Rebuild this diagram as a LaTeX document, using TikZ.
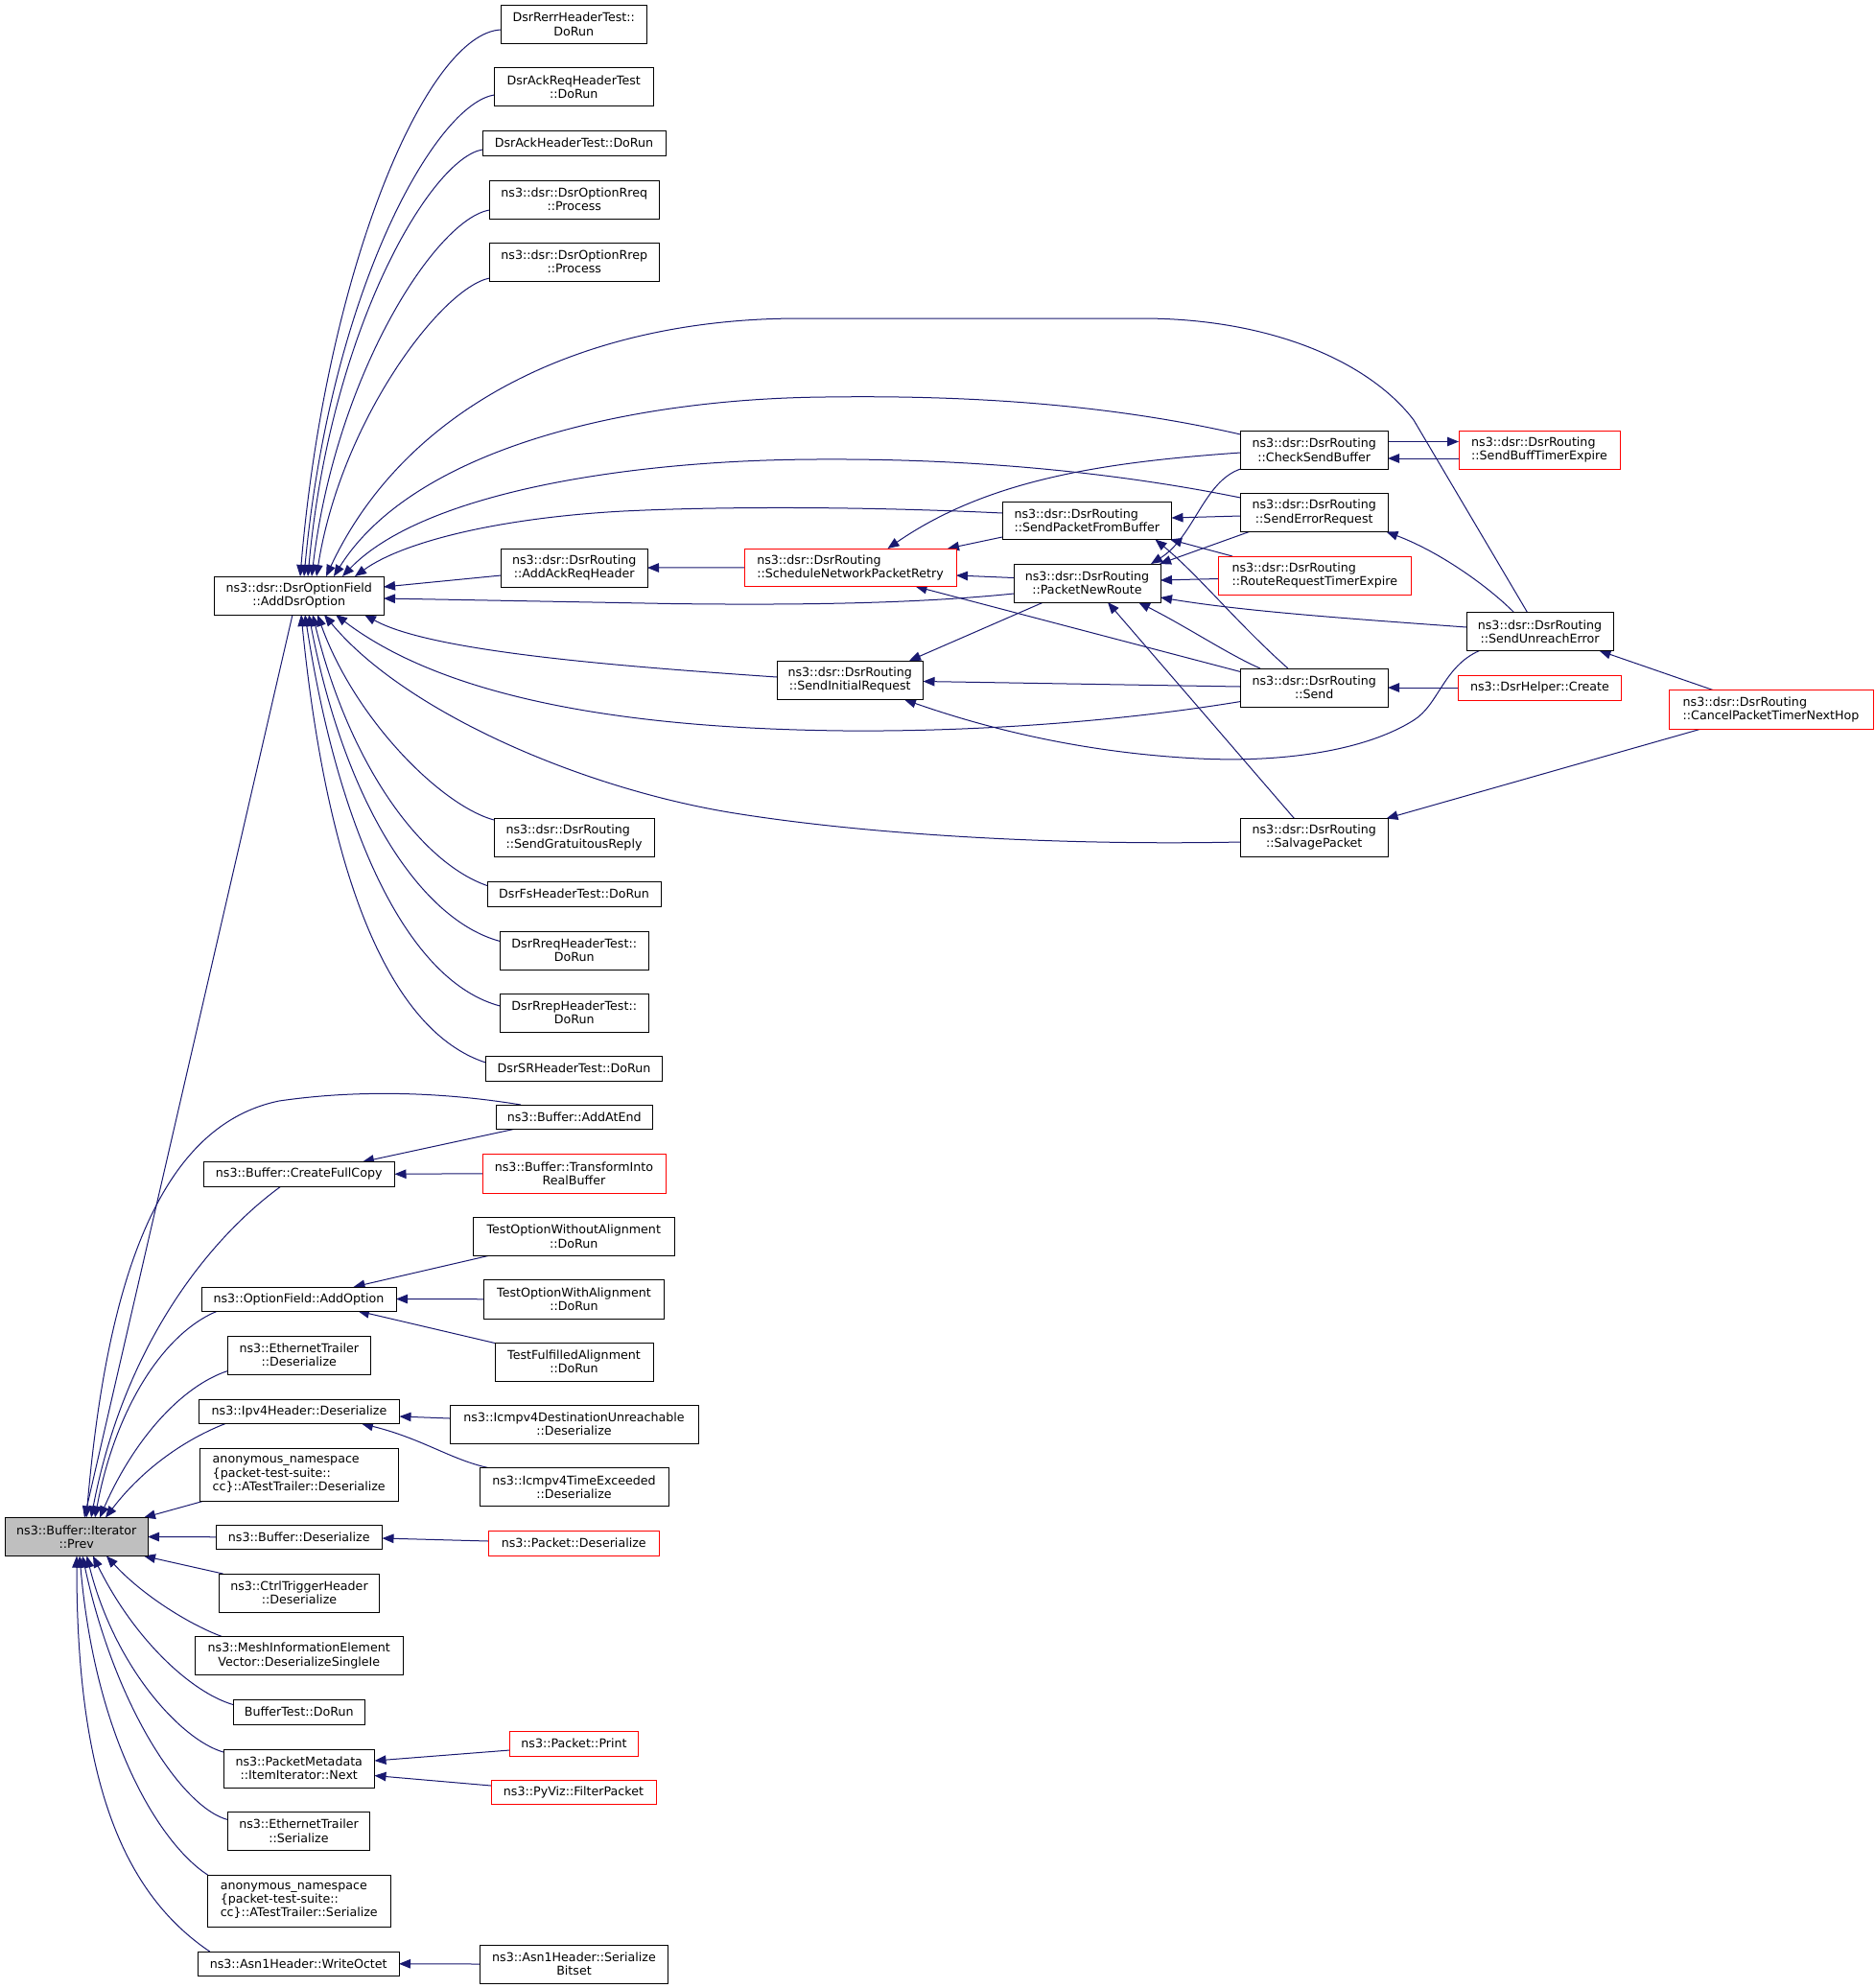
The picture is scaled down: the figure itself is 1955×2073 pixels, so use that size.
\documentclass[tikz,border=0pt]{standalone}
\usepackage{fontspec}
\setmainfont{DejaVu Sans}
\usetikzlibrary{arrows.meta,calc}
\pgfdeclarelayer{background}
\pgfsetlayers{background,main}
\definecolor{edgeblue}{HTML}{191970}
\definecolor{boxgray}{HTML}{BFBFBF}
\tikzset{
  box/.style={draw=black,line width=1pt,fill=white,inner sep=0pt,outer sep=0pt,align=center,font=\fontsize{12.65}{14.2}\selectfont},
  redbox/.style={draw=red},
  graybox/.style={fill=boxgray},
  calls/.style={draw=edgeblue,line width=1pt,-{Triangle[length=12pt,width=9.5pt]}},
}
\newcommand{\nd}[7][]{\node[box,#1,minimum width={#5-#3},minimum height={#6-#4}] (#2) at ({(#3+#5)/2},{(#4+#6)/2}) {#7};}
\begin{document}
\begin{tikzpicture}[x=1pt,y=-1pt]
\begin{pgfonlayer}{background}
\fill[white] (0,0) rectangle (1955,2073);
\end{pgfonlayer}
\useasboundingbox (0,0) rectangle (1955,2073);
% nodes
\nd[graybox]{prev}{5.5}{1582.5}{154}{1622.5}{ns3::Buffer::Iterator\\::Prev}
\nd{ados}{223.5}{601}{400}{641}{ns3::dsr::DsrOptionField\\::AddDsrOption}
\nd{rerr}{522.5}{5.5}{674}{45}{DsrRerrHeaderTest::\\DoRun}
\nd{ackreq}{515.5}{70.5}{681}{110.5}{DsrAckReqHeaderTest\\::DoRun}
\nd{ack}{503}{136.5}{694}{162}{DsrAckHeaderTest::DoRun}
\nd{rreq}{510.5}{188}{687}{228}{ns3::dsr::DsrOptionRreq\\::Process}
\nd{rrep}{510.5}{253}{687}{293}{ns3::dsr::DsrOptionRrep\\::Process}
\nd{ackhdr}{522.5}{572}{675}{612}{ns3::dsr::DsrRouting\\::AddAckReqHeader}
\nd[align=left]{grat}{515}{853.5}{682}{893.5}{ns3::dsr::DsrRouting\\::SendGratuitousReply}
\nd{fs}{508}{919.5}{689}{945}{DsrFsHeaderTest::DoRun}
\nd{rreqt}{521.5}{971}{676}{1011}{DsrRreqHeaderTest::\\DoRun}
\nd{rrept}{521.5}{1036}{676}{1076}{DsrRrepHeaderTest::\\DoRun}
\nd{srt}{506.5}{1101.5}{690.5}{1127}{DsrSRHeaderTest::DoRun}
\nd{addatend}{517.5}{1152}{680}{1177.5}{ns3::Buffer::AddAtEnd}
\nd{cfc}{212}{1211.5}{411.5}{1237}{ns3::Buffer::CreateFullCopy}
\nd[redbox]{transform}{503}{1203.5}{694}{1244}{ns3::Buffer::TransformInto\\RealBuffer}
\nd{towo}{493.5}{1269}{703}{1309.5}{TestOptionWithoutAlignment\\::DoRun}
\nd{addopt}{210}{1342}{413}{1367}{ns3::OptionField::AddOption}
\nd{towa}{504.5}{1334.5}{692.5}{1375}{TestOptionWithAlignment\\::DoRun}
\nd{tfa}{516}{1400}{681}{1440}{TestFulfilledAlignment\\::DoRun}
\nd{ethd}{237.5}{1393}{386}{1433}{ns3::EthernetTrailer\\::Deserialize}
\nd{ipv4}{207.5}{1459}{416.5}{1484.5}{ns3::Ipv4Header::Deserialize}
\nd{icmpdu}{469}{1465}{728}{1505}{ns3::Icmpv4DestinationUnreachable\\::Deserialize}
\nd{icmpte}{500}{1530.5}{697}{1570.5}{ns3::Icmpv4TimeExceeded\\::Deserialize}
\nd[align=left]{atd}{208.5}{1510}{415}{1565}{anonymous\_namespace\\\{packet-test-suite::\\cc\}::ATestTrailer::Deserialize}
\nd{bufd}{225}{1590}{398.5}{1615.5}{ns3::Buffer::Deserialize}
\nd[redbox]{pktd}{509.5}{1596.5}{687}{1622}{ns3::Packet::Deserialize}
\nd{ctrl}{228.5}{1641}{395.5}{1681}{ns3::CtrlTriggerHeader\\::Deserialize}
\nd{mesh}{203}{1706.5}{420.5}{1746.5}{ns3::MeshInformationElement\\Vector::DeserializeSingleIe}
\nd{buft}{243}{1772.5}{380.5}{1798}{BufferTest::DoRun}
\nd{pmd}{233}{1824}{390.5}{1864}{ns3::PacketMetadata\\::ItemIterator::Next}
\nd[redbox]{pprint}{531.5}{1805.5}{665.5}{1831}{ns3::Packet::Print}
\nd[redbox]{pyviz}{512}{1856.5}{684}{1881.5}{ns3::PyViz::FilterPacket}
\nd{eths}{237.5}{1889.5}{385.5}{1929}{ns3::EthernetTrailer\\::Serialize}
\nd[align=left]{ats}{216.5}{1955}{407}{2009.5}{anonymous\_namespace\\\{packet-test-suite::\\cc\}::ATestTrailer::Serialize}
\nd{wocte}{206.5}{2035}{416}{2060.5}{ns3::Asn1Header::WriteOctet}
\nd{bitset}{500.5}{2028}{696.5}{2068}{ns3::Asn1Header::Serialize\\Bitset}
\nd[redbox,align=left]{sched}{776}{572}{997}{611.5}{ns3::dsr::DsrRouting\\::ScheduleNetworkPacketRetry}
\nd{sir}{810}{689}{962.5}{729.5}{ns3::dsr::DsrRouting\\::SendInitialRequest}
\nd[align=left]{spfb}{1045}{523}{1221.5}{562.5}{ns3::dsr::DsrRouting\\::SendPacketFromBuffer}
\nd{pnr}{1057}{588}{1210}{628}{ns3::dsr::DsrRouting\\::PacketNewRoute}
\nd{csb}{1293.5}{449.5}{1447}{489}{ns3::dsr::DsrRouting\\::CheckSendBuffer}
\nd{ser}{1293.5}{514.5}{1447}{554.5}{ns3::dsr::DsrRouting\\::SendErrorRequest}
\nd[redbox,align=left]{rrte}{1270.5}{580}{1471}{620}{ns3::dsr::DsrRouting\\::RouteRequestTimerExpire}
\nd{send}{1293.5}{697}{1447}{737}{ns3::dsr::DsrRouting\\::Send}
\nd{salv}{1293.5}{853.5}{1447}{893}{ns3::dsr::DsrRouting\\::SalvagePacket}
\nd[redbox,align=left]{sbte}{1521}{449.5}{1689}{489}{ns3::dsr::DsrRouting\\::SendBuffTimerExpire}
\nd{sue}{1529}{638.5}{1682}{678.5}{ns3::dsr::DsrRouting\\::SendUnreachError}
\nd[redbox]{create}{1520.5}{704}{1690.5}{730}{ns3::DsrHelper::Create}
\nd[redbox,align=left]{cancel}{1740}{719.5}{1953}{760}{ns3::dsr::DsrRouting\\::CancelPacketTimerNextHop}
% edges
\begin{pgfonlayer}{background}
% top fan into AddDsrOption
\draw[calls] ($(rerr.north west)+(0,25.5)$) .. controls (445,34) and (340,280) .. ($(ados.north west)+(89.5,0)$);
\draw[calls] ($(ackreq.north west)+(0,28.5)$) .. controls (455,108) and (345,300) .. ($(ados.north west)+(93.5,0)$);
\draw[calls] ($(ack.north west)+(0,19.5)$) .. controls (450,165) and (345,340) .. ($(ados.north west)+(97.5,0)$);
\draw[calls] ($(rreq.north west)+(0,31)$) .. controls (455,228) and (350,390) .. ($(ados.north west)+(101.5,0)$);
\draw[calls] ($(rrep.north west)+(0,37)$) .. controls (460,300) and (355,440) .. ($(ados.north west)+(106.5,0)$);
\draw[calls] ($(sue.north west)+(63.5,0)$) -- (1474,438) .. controls (1430,380) and (1330,332) .. (1190,332) -- (834,332) .. controls (600,332) and (420,430) .. ($(ados.north west)+(116.5,0)$);
\draw[calls] ($(csb.north west)+(0,3.5)$) .. controls (1150,420) and (1000,412) .. (860,414) .. controls (650,416) and (430,470) .. ($(ados.north west)+(124.5,0)$);
\draw[calls] ($(ser.north west)+(0,4.5)$) .. controls (1150,490) and (1000,478) .. (850,479) .. controls (650,480) and (440,515) .. ($(ados.north west)+(133.5,0)$);
\draw[calls] ($(spfb.north west)+(0,12)$) .. controls (900,528) and (750,528) .. (650,533) .. controls (520,540) and (420,565) .. ($(ados.north west)+(146.5,0)$);
\draw[calls] ($(ackhdr.north west)+(0,28)$) -- ($(ados.north west)+(176.5,11)$);
\draw[calls] ($(pnr.north west)+(0,31)$) .. controls (950,630) and (820,631) .. (700,629.5) -- ($(ados.north west)+(176.5,23)$);
% bottom fan into AddDsrOption
\draw[calls] ($(sir.north west)+(0,17)$) .. controls (650,695) and (450,680) .. ($(ados.north west)+(156.5,40)$);
\draw[calls] ($(send.north west)+(0,34.5)$) .. controls (1150,755) and (1000,763) .. (880,762) .. controls (700,760) and (480,740) .. ($(ados.north west)+(126.5,40)$);
\draw[calls] ($(salv.north west)+(0,24.5)$) .. controls (1100,882) and (900,870) .. (760,847) .. controls (600,820) and (420,740) .. ($(ados.north west)+(114.5,40)$);
\draw[calls] ($(grat.north west)+(0,1.5)$) .. controls (460,840) and (370,750) .. ($(ados.north west)+(107.5,40)$);
\draw[calls] ($(fs.north west)+(0,4)$) .. controls (440,900) and (365,800) .. ($(ados.north west)+(102.5,40)$);
\draw[calls] ($(rreqt.north west)+(0,10.5)$) .. controls (440,960) and (360,840) .. ($(ados.north west)+(98.5,40)$);
\draw[calls] ($(rrept.north west)+(0,13)$) .. controls (430,1025) and (355,880) .. ($(ados.north west)+(94.5,40)$);
\draw[calls] ($(srt.north west)+(0,6.5)$) .. controls (420,1080) and (345,950) .. ($(ados.north west)+(90.5,40)$);
% fan into Prev
\draw[calls] ($(ados.north west)+(81.5,40)$) -- ($(prev.north west)+(82.5,0)$);
\draw[calls] ($(addatend.north west)+(25.5,0)$) .. controls (470,1140) and (380,1135) .. (291,1148) .. controls (160,1175) and (110,1350) .. ($(prev.north west)+(84.5,0)$);
\draw[calls] ($(cfc.north west)+(81,25.5)$) .. controls (220,1290) and (130,1400) .. ($(prev.north west)+(89.5,0)$);
\draw[calls] ($(addopt.north west)+(17,25)$) .. controls (170,1390) and (120,1470) .. ($(prev.north west)+(93.5,0)$);
\draw[calls] ($(ethd.north west)+(0,36.5)$) .. controls (190,1445) and (140,1500) .. ($(prev.north west)+(98.5,0)$);
\draw[calls] ($(ipv4.north west)+(27.5,25.5)$) .. controls (195,1500) and (150,1530) .. ($(prev.north west)+(104.5,0)$);
\draw[calls] ($(atd.north west)+(4.5,55)$) -- ($(prev.north west)+(144.5,0)$);
\draw[calls] (bufd.west) -- (prev.east);
\draw[calls] ($(ctrl.north west)+(4,0)$) -- ($(prev.north west)+(144.5,40)$);
\draw[calls] ($(mesh.north west)+(28.5,0)$) .. controls (200,1695) and (150,1665) .. ($(prev.north west)+(105.5,40)$);
\draw[calls] ($(buft.north west)+(0,5)$) .. controls (200,1765) and (140,1710) .. ($(prev.north west)+(91.5,40)$);
\draw[calls] ($(pmd.north west)+(0,3)$) .. controls (190,1815) and (120,1740) .. ($(prev.north west)+(85,40)$);
\draw[calls] ($(eths.north west)+(0,8)$) .. controls (190,1885) and (120,1780) .. ($(prev.north west)+(80.5,40)$);
\draw[calls] (ats.north west) .. controls (170,1925) and (100,1820) .. ($(prev.north west)+(77.5,40)$);
\draw[calls] ($(wocte.north west)+(12.25,0)$) .. controls (130,1975) and (80,1860) .. ($(prev.north west)+(74.5,40)$);
% second level, lower part
\draw[calls] (transform.west) -- (cfc.east);
\draw[calls] ($(addatend.north west)+(18,25.5)$) -- ($(cfc.north west)+(166,0)$);
\draw[calls] ($(towo.north west)+(15.5,40.5)$) -- ($(addopt.north west)+(158.5,0)$);
\draw[calls] (towa.west) -- (addopt.east);
\draw[calls] ($(tfa.north west)+(0,0.5)$) -- ($(addopt.north west)+(163,25)$);
\draw[calls] ($(icmpdu.north west)+(0,14)$) -- ($(ipv4.north west)+(209,18)$);
\draw[calls] ($(icmpte.north west)+(9,0)$) .. controls (470,1522) and (440,1500) .. ($(ipv4.north west)+(169.5,25.5)$);
\draw[calls] ($(pktd.north west)+(0,10.5)$) -- ($(bufd.north west)+(173.5,14)$);
\draw[calls] ($(pprint.north west)+(0,19.5)$) -- ($(pmd.north west)+(157.5,12)$);
\draw[calls] ($(pyviz.north west)+(0,5.5)$) -- ($(pmd.north west)+(157.5,27.5)$);
\draw[calls] (bitset.west) -- (wocte.east);
% DSR routing cluster
\draw[calls] (sched.west) -- (ackhdr.east);
\draw[calls] ($(spfb.north west)+(0,37)$) -- ($(sched.north west)+(212,0)$);
\draw[calls] ($(pnr.north west)+(0,14.5)$) -- ($(sched.north west)+(221,28)$);
\draw[calls] ($(csb.north west)+(0,22.5)$) .. controls (1150,482) and (1030,500) .. ($(sched.north west)+(149.5,0)$);
\draw[calls] ($(send.north west)+(0,3.5)$) -- ($(sched.north west)+(178.5,39.5)$);
\draw[calls] ($(pnr.north west)+(31,40)$) -- ($(sir.north west)+(138,0)$);
\draw[calls] ($(send.north west)+(0,19)$) -- ($(sir.north west)+(152.5,21.5)$);
\draw[calls] ($(sue.north west)+(13.5,40)$) .. controls (1505,695) and (1500,735) .. (1474,751) .. controls (1420,785) and (1330,795) .. (1250,791) .. controls (1130,785) and (1030,760) .. ($(sir.north west)+(133,40.5)$);
\draw[calls] ($(csb.north west)+(0,39.5)$) .. controls (1255,502) and (1245,560) .. ($(pnr.north west)+(143,0)$);
\draw[calls] ($(ser.north west)+(9,40)$) -- ($(pnr.north west)+(152,0)$);
\draw[calls] ($(ser.north west)+(0,23.5)$) -- ($(spfb.north west)+(176.5,17)$);
\draw[calls] ($(rrte.north west)+(14.5,0)$) -- ($(spfb.north west)+(175,39.5)$);
\draw[calls] ($(send.north west)+(49.5,0)$) .. controls (1290,650) and (1250,600) .. ($(spfb.north west)+(159.5,39.5)$);
\draw[calls] ($(rrte.north west)+(0,23.5)$) -- ($(pnr.north west)+(153,17)$);
\draw[calls] ($(sue.north west)+(0,15.5)$) .. controls (1420,646) and (1300,638) .. ($(pnr.north west)+(153,35)$);
\draw[calls] ($(send.north west)+(20.5,0)$) .. controls (1280,682) and (1240,655) .. ($(pnr.north west)+(130,40)$);
\draw[calls] ($(salv.north west)+(56,0)$) -- ($(pnr.north west)+(98,40)$);
\draw[calls] ($(sbte.north west)+(0,28.5)$) -- ($(csb.north west)+(153.5,28.5)$);
\draw[calls] ($(csb.north west)+(153.5,11)$) -- ($(sbte.north west)+(0,11)$);
\draw[calls] (create.west) -- (send.east);
\draw[calls] ($(sue.north west)+(49.5,0)$) .. controls (1550,610) and (1500,575) .. ($(ser.north west)+(152,40)$);
\draw[calls] ($(cancel.north west)+(46,0)$) -- ($(sue.north west)+(138.5,40)$);
\draw[calls] ($(cancel.north west)+(34,40.5)$) -- ($(salv.north west)+(152,0)$);
\end{pgfonlayer}
\end{tikzpicture}
\end{document}
